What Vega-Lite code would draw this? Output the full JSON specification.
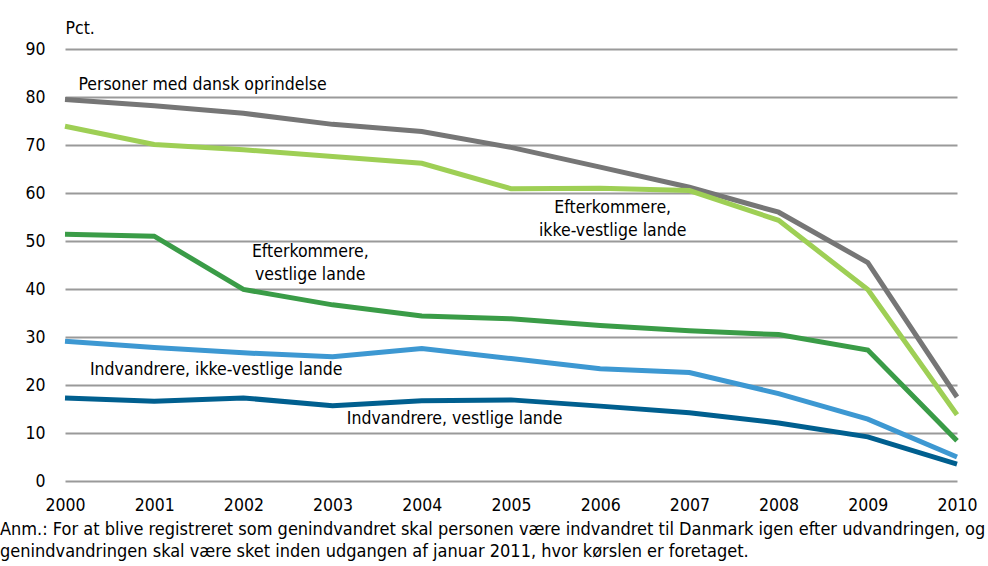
{
  "$schema": "https://vega.github.io/schema/vega-lite/v6.json",
  "autosize": {"type": "none"},
  "width": 892,
  "height": 432,
  "padding": {"left": 65, "top": 49, "right": 31, "bottom": 85},
  "background": "white",
  "config": {
    "view": {"stroke": null},
    "font": "DejaVu Sans Condensed",
    "axis": {"labelFont": "DejaVu Sans Condensed", "titleFont": "DejaVu Sans Condensed"}
  },
  "title": {
    "text": ["Anm.: For at blive registreret som genindvandret skal personen være indvandret til Danmark igen efter udvandringen, og", "genindvandringen skal være sket inden udgangen af januar 2011, hvor kørslen er foretaget."],
    "orient": "bottom",
    "anchor": "start",
    "frame": "group",
    "dx": -65,
    "offset": 7,
    "fontSize": 18,
    "fontWeight": "normal",
    "font": "DejaVu Sans Condensed",
    "color": "#000000",
    "lineHeight": 22
  },
  "datasets": {
    "series": [
      {"year": 2000, "value": 79.5, "group": "Personer med dansk oprindelse"},
      {"year": 2001, "value": 78.2, "group": "Personer med dansk oprindelse"},
      {"year": 2002, "value": 76.6, "group": "Personer med dansk oprindelse"},
      {"year": 2003, "value": 74.3, "group": "Personer med dansk oprindelse"},
      {"year": 2004, "value": 72.8, "group": "Personer med dansk oprindelse"},
      {"year": 2005, "value": 69.5, "group": "Personer med dansk oprindelse"},
      {"year": 2006, "value": 65.4, "group": "Personer med dansk oprindelse"},
      {"year": 2007, "value": 61.2, "group": "Personer med dansk oprindelse"},
      {"year": 2008, "value": 56.0, "group": "Personer med dansk oprindelse"},
      {"year": 2009, "value": 45.5, "group": "Personer med dansk oprindelse"},
      {"year": 2010, "value": 17.5, "group": "Personer med dansk oprindelse"},
      {"year": 2000, "value": 73.9, "group": "Efterkommere, ikke-vestlige lande"},
      {"year": 2001, "value": 70.1, "group": "Efterkommere, ikke-vestlige lande"},
      {"year": 2002, "value": 69.0, "group": "Efterkommere, ikke-vestlige lande"},
      {"year": 2003, "value": 67.6, "group": "Efterkommere, ikke-vestlige lande"},
      {"year": 2004, "value": 66.2, "group": "Efterkommere, ikke-vestlige lande"},
      {"year": 2005, "value": 60.9, "group": "Efterkommere, ikke-vestlige lande"},
      {"year": 2006, "value": 61.0, "group": "Efterkommere, ikke-vestlige lande"},
      {"year": 2007, "value": 60.5, "group": "Efterkommere, ikke-vestlige lande"},
      {"year": 2008, "value": 54.3, "group": "Efterkommere, ikke-vestlige lande"},
      {"year": 2009, "value": 39.9, "group": "Efterkommere, ikke-vestlige lande"},
      {"year": 2010, "value": 13.8, "group": "Efterkommere, ikke-vestlige lande"},
      {"year": 2000, "value": 51.4, "group": "Efterkommere, vestlige lande"},
      {"year": 2001, "value": 51.0, "group": "Efterkommere, vestlige lande"},
      {"year": 2002, "value": 39.9, "group": "Efterkommere, vestlige lande"},
      {"year": 2003, "value": 36.7, "group": "Efterkommere, vestlige lande"},
      {"year": 2004, "value": 34.4, "group": "Efterkommere, vestlige lande"},
      {"year": 2005, "value": 33.8, "group": "Efterkommere, vestlige lande"},
      {"year": 2006, "value": 32.4, "group": "Efterkommere, vestlige lande"},
      {"year": 2007, "value": 31.3, "group": "Efterkommere, vestlige lande"},
      {"year": 2008, "value": 30.5, "group": "Efterkommere, vestlige lande"},
      {"year": 2009, "value": 27.3, "group": "Efterkommere, vestlige lande"},
      {"year": 2010, "value": 8.4, "group": "Efterkommere, vestlige lande"},
      {"year": 2000, "value": 29.1, "group": "Indvandrere, ikke-vestlige lande"},
      {"year": 2001, "value": 27.8, "group": "Indvandrere, ikke-vestlige lande"},
      {"year": 2002, "value": 26.7, "group": "Indvandrere, ikke-vestlige lande"},
      {"year": 2003, "value": 25.9, "group": "Indvandrere, ikke-vestlige lande"},
      {"year": 2004, "value": 27.6, "group": "Indvandrere, ikke-vestlige lande"},
      {"year": 2005, "value": 25.5, "group": "Indvandrere, ikke-vestlige lande"},
      {"year": 2006, "value": 23.4, "group": "Indvandrere, ikke-vestlige lande"},
      {"year": 2007, "value": 22.6, "group": "Indvandrere, ikke-vestlige lande"},
      {"year": 2008, "value": 18.2, "group": "Indvandrere, ikke-vestlige lande"},
      {"year": 2009, "value": 12.9, "group": "Indvandrere, ikke-vestlige lande"},
      {"year": 2010, "value": 5.0, "group": "Indvandrere, ikke-vestlige lande"},
      {"year": 2000, "value": 17.3, "group": "Indvandrere, vestlige lande"},
      {"year": 2001, "value": 16.6, "group": "Indvandrere, vestlige lande"},
      {"year": 2002, "value": 17.3, "group": "Indvandrere, vestlige lande"},
      {"year": 2003, "value": 15.7, "group": "Indvandrere, vestlige lande"},
      {"year": 2004, "value": 16.7, "group": "Indvandrere, vestlige lande"},
      {"year": 2005, "value": 16.9, "group": "Indvandrere, vestlige lande"},
      {"year": 2006, "value": 15.6, "group": "Indvandrere, vestlige lande"},
      {"year": 2007, "value": 14.2, "group": "Indvandrere, vestlige lande"},
      {"year": 2008, "value": 12.1, "group": "Indvandrere, vestlige lande"},
      {"year": 2009, "value": 9.2, "group": "Indvandrere, vestlige lande"},
      {"year": 2010, "value": 3.5, "group": "Indvandrere, vestlige lande"}
    ],
    "labels": [
      {"year": 2000.15, "value": 82.5, "label": "Personer med dansk oprindelse", "anchor": "left"},
      {"year": 2006.14, "value": 56.8, "label": "Efterkommere,", "anchor": "center"},
      {"year": 2006.14, "value": 52.0, "label": "ikke-vestlige lande", "anchor": "center"},
      {"year": 2002.75, "value": 47.8, "label": "Efterkommere,", "anchor": "center"},
      {"year": 2002.75, "value": 43.0, "label": "vestlige lande", "anchor": "center"},
      {"year": 2000.28, "value": 23.2, "label": "Indvandrere, ikke-vestlige lande", "anchor": "left"},
      {"year": 2003.16, "value": 12.9, "label": "Indvandrere, vestlige lande", "anchor": "left"}
    ]
  },
  "layer": [
    {
      "data": {"name": "series"},
      "mark": {"type": "line", "strokeWidth": 5, "strokeCap": "butt", "strokeJoin": "miter", "clip": false},
      "encoding": {
        "x": {
          "field": "year", "type": "quantitative",
          "scale": {"domain": [2000, 2010], "nice": false, "zero": false},
          "axis": {
            "title": null, "values": [2000, 2001, 2002, 2003, 2004, 2005, 2006, 2007, 2008, 2009, 2010],
            "format": "d", "grid": false, "domain": false, "ticks": false,
            "labelFontSize": 17.5, "labelColor": "#000000", "labelPadding": 15, "labelFlush": false
          }
        },
        "y": {
          "field": "value", "type": "quantitative",
          "scale": {"domain": [0, 90], "nice": false},
          "axis": {
            "title": "Pct.", "titleAngle": 0, "titleX": 0, "titleY": -12, "titleAlign": "left",
            "titleBaseline": "bottom", "titleFontSize": 17.5, "titleFontWeight": "normal", "titleColor": "#000000",
            "values": [0, 10, 20, 30, 40, 50, 60, 70, 80, 90],
            "grid": true, "gridColor": "#9a9a9a", "gridWidth": 2,
            "domain": false, "ticks": false,
            "labelFontSize": 17.5, "labelColor": "#000000", "labelPadding": 20
          }
        },
        "color": {
          "field": "group", "type": "nominal", "legend": null,
          "scale": {
            "domain": ["Personer med dansk oprindelse", "Efterkommere, ikke-vestlige lande", "Efterkommere, vestlige lande", "Indvandrere, ikke-vestlige lande", "Indvandrere, vestlige lande"],
            "range": ["#767676", "#9ecf55", "#3a9c47", "#3d98d2", "#005f8f"]
          }
        }
      }
    },
    {
      "data": {"name": "labels"},
      "transform": [{"filter": "datum.anchor === 'left'"}],
      "mark": {"type": "text", "fontSize": 17.5, "align": "left", "baseline": "middle", "color": "#000000", "font": "DejaVu Sans Condensed"},
      "encoding": {
        "x": {"field": "year", "type": "quantitative"},
        "y": {"field": "value", "type": "quantitative"},
        "text": {"field": "label"}
      }
    },
    {
      "data": {"name": "labels"},
      "transform": [{"filter": "datum.anchor === 'center'"}],
      "mark": {"type": "text", "fontSize": 17.5, "align": "center", "baseline": "middle", "color": "#000000", "font": "DejaVu Sans Condensed"},
      "encoding": {
        "x": {"field": "year", "type": "quantitative"},
        "y": {"field": "value", "type": "quantitative"},
        "text": {"field": "label"}
      }
    }
  ]
}
